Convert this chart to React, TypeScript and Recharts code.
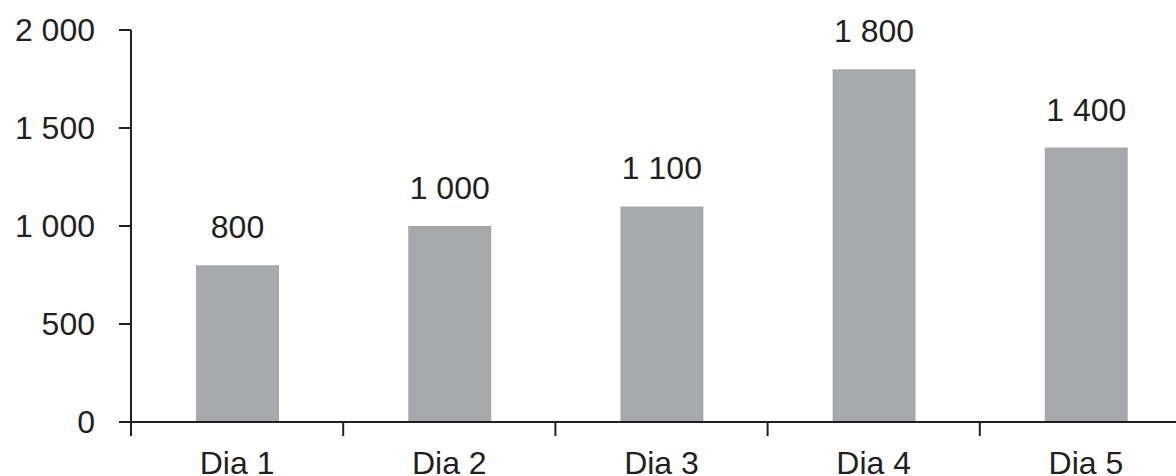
import { BarChart, Bar, XAxis, YAxis, LabelList } from 'recharts';

const DAYS = ['Dia 1', 'Dia 2', 'Dia 3', 'Dia 4', 'Dia 5'];
const VALUES = [800, 1000, 1100, 1800, 1400];
const Y_TICKS = [0, 500, 1000, 1500, 2000];

const data = DAYS.map((day, i) => ({ day, value: VALUES[i] }));

const INK = '#231f20';
const BAR = '#a7a8ab';
const FONT = "'Liberation Sans', Arial, sans-serif";
const FS = 32;
const X_TICK_SIZE = 14;
const X_TICK_MARGIN = 15;

function formatNum(v: number): string {
  return String(v).replace(/\B(?=(\d{3})+(?!\d))/g, ' ');
}

// Excel-style: tick marks sit between categories, labels stay centered
function DayTick(props: any) {
  const { x, y, payload } = props;
  const axisY = y - X_TICK_MARGIN - X_TICK_SIZE;
  const bx = payload.coordinate - (payload.offset || 0);
  return (
    <g>
      <line x1={bx} y1={axisY} x2={bx} y2={axisY + X_TICK_SIZE} stroke={INK} strokeWidth={2} />
      <text x={x} y={y} dy="0.71em" textAnchor="middle" fill={INK} fontSize={FS} fontFamily={FONT}>
        {payload.value}
      </text>
    </g>
  );
}

export default function App() {
  return (
    <div style={{ position: 'fixed', left: 0, top: 0, width: 1176, height: 476, overflow: 'hidden', background: '#fff' }}>
      <BarChart
        width={1200}
        height={476}
        data={data}
        margin={{ top: 30, right: 8, bottom: 0, left: 0 }}
      >
        <XAxis
          dataKey="day"
          height={54}
          axisLine={{ stroke: INK, strokeWidth: 2 }}
          tickLine={false}
          tickSize={X_TICK_SIZE}
          tickMargin={X_TICK_MARGIN}
          tick={<DayTick />}
          interval={0}
        />
        <YAxis
          width={131}
          domain={[0, 2000]}
          ticks={Y_TICKS}
          tickFormatter={formatNum}
          axisLine={{ stroke: INK, strokeWidth: 2 }}
          tickLine={{ stroke: INK, strokeWidth: 2 }}
          tickSize={12}
          tickMargin={24}
          tick={{ fill: INK, fontSize: FS, fontFamily: FONT }}
        />
        <Bar dataKey="value" fill={BAR} barSize={83} isAnimationActive={false}>
          <LabelList
            dataKey="value"
            position="top"
            offset={27}
            formatter={(v: any) => formatNum(Number(v))}
            fill={INK}
            fontSize={FS}
            fontFamily={FONT}
          />
        </Bar>
      </BarChart>
    </div>
  );
}
